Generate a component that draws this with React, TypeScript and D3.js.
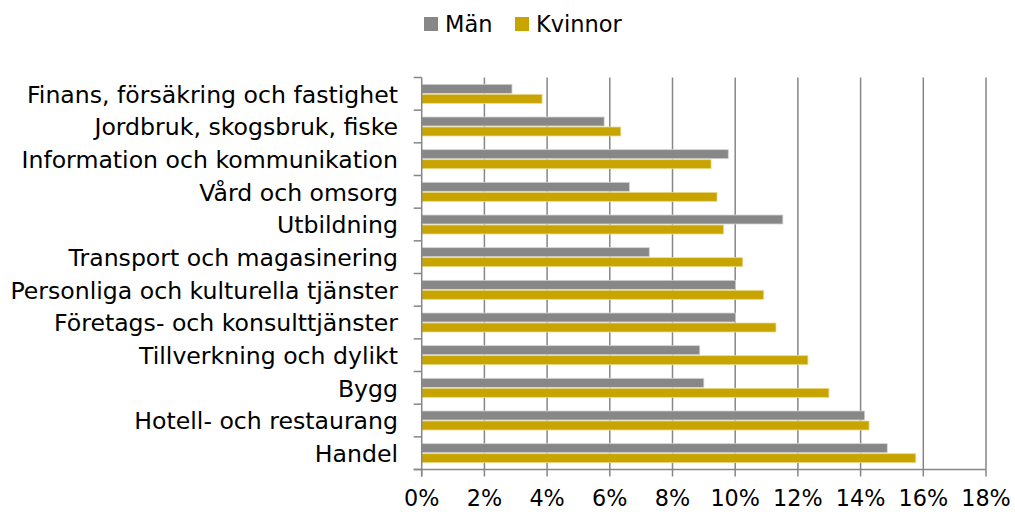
import React from "react";
import * as d3 from "d3";

const categories = [
  "Finans, försäkring och fastighet",
  "Jordbruk, skogsbruk, fiske",
  "Information och kommunikation",
  "Vård och omsorg",
  "Utbildning",
  "Transport och magasinering",
  "Personliga och kulturella tjänster",
  "Företags- och konsulttjänster",
  "Tillverkning och dylikt",
  "Bygg",
  "Hotell- och restaurang",
  "Handel",
];
const seriesNames = ["Män", "Kvinnor"];
const manValues = [2.88, 5.82, 9.78, 6.63, 11.52, 7.26, 10.01, 10.01, 8.87, 9.0, 14.13, 14.85];
const kvinnorValues = [3.84, 6.35, 9.23, 9.42, 9.63, 10.24, 10.91, 11.3, 12.32, 12.99, 14.27, 15.76];
const xTicks = [0, 2, 4, 6, 8, 10, 12, 14, 16, 18];
const colors = ["#878787", "#C8A400"];

const W = 1015;
const H = 515;
const left = 421.7;
const right = 986;
const top = 77.5;
const bottom = 469.5;
const FONT = "'DejaVu Sans', Verdana, sans-serif";

export default function App() {
  const x = d3.scaleLinear().domain([0, 18]).range([left, right]);
  const y = d3
    .scaleBand<string>()
    .domain(categories)
    .range([top, bottom])
    .paddingInner(0.388)
    .paddingOuter(0.194);
  const sub = d3.scaleBand<string>().domain(seriesNames).range([0, y.bandwidth()]);
  const step = y.step();
  const series = [manValues, kvinnorValues];
  const gridColor = "#868686";

  return (
    <svg
      width={W}
      height={H}
      style={{ position: "absolute", left: 0, top: 0, background: "#fff" }}
      fontFamily={FONT}
    >
      {/* gridlines */}
      {xTicks.slice(1).map((t) => (
        <line key={"g" + t} x1={x(t)} x2={x(t)} y1={top} y2={bottom} stroke={gridColor} strokeWidth={1.5} />
      ))}
      {/* bars */}
      {categories.map((c, i) =>
        seriesNames.map((s, j) => (
          <rect
            key={c + s}
            x={x(0)}
            y={(y(c) as number) + (sub(s) as number) + 0.5}
            width={x(series[j][i]) - x(0)}
            height={sub.bandwidth() - 1}
            fill={colors[j]}
            stroke={j === 0 ? "#d4d4d4" : "#ecd98a"}
            strokeWidth={0.8}
          />
        ))
      )}
      {/* axes */}
      <line x1={left} x2={left} y1={top} y2={bottom + 7} stroke={gridColor} strokeWidth={1.5} />
      <line x1={left - 8} x2={right} y1={bottom} y2={bottom} stroke={gridColor} strokeWidth={1.5} />
      {d3.range(categories.length + 1).map((k) => (
        <line
          key={"yt" + k}
          x1={left - 8}
          x2={left}
          y1={top + k * step}
          y2={top + k * step}
          stroke={gridColor}
          strokeWidth={1.5}
        />
      ))}
      {xTicks.map((t) => (
        <line key={"xt" + t} x1={x(t)} x2={x(t)} y1={bottom} y2={bottom + 7} stroke={gridColor} strokeWidth={1.5} />
      ))}
      {/* category labels */}
      {categories.map((c) => (
        <text
          key={"l" + c}
          x={398}
          y={(y(c) as number) + y.bandwidth() / 2}
          dy="0.38em"
          textAnchor="end"
          fontSize={23.6}
          fill="#000"
        >
          {c}
        </text>
      ))}
      {/* x tick labels */}
      {xTicks.map((t) => (
        <text key={"xl" + t} x={x(t)} y={506} textAnchor="middle" fontSize={22.3} fill="#000">
          {t + "%"}
        </text>
      ))}
      {/* legend */}
      <rect x={424} y={17} width={14} height={14} fill={colors[0]} />
      <text x={445} y={32} fontSize={22.5} fill="#000">
        {seriesNames[0]}
      </text>
      <rect x={515} y={17} width={14} height={14} fill={colors[1]} />
      <text x={536} y={32} fontSize={22.5} fill="#000">
        {seriesNames[1]}
      </text>
    </svg>
  );
}
